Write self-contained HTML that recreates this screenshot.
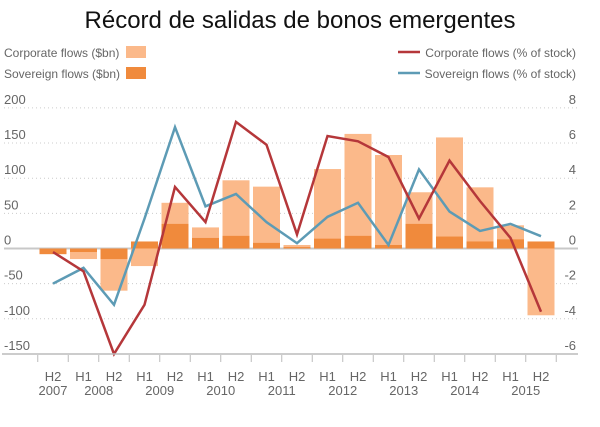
<!DOCTYPE html>
<html><head><meta charset="utf-8">
<style>
body{margin:0;background:#fff;font-family:"Liberation Sans",sans-serif;}
svg text{font-family:"Liberation Sans",sans-serif;fill:#666;}
</style></head>
<body>
<svg id="c" width="600" height="422">
<text x="300" y="28" text-anchor="middle" font-size="24" style="fill:#111">Récord de salidas de bonos emergentes</text>
<g>
<text x="4" y="57" font-size="12">Corporate flows ($bn)</text>
<rect x="126" y="46" width="20" height="12" fill="#fbb98a"/>
<text x="4" y="78" font-size="12">Sovereign flows ($bn)</text>
<rect x="126" y="67" width="20" height="12" fill="#f08a3c"/>
<line x1="398" y1="52" x2="420" y2="52" stroke="#b5373a" stroke-width="2.5"/>
<text x="576" y="57" font-size="12" text-anchor="end">Corporate flows (% of stock)</text>
<line x1="398" y1="73" x2="420" y2="73" stroke="#5d9bb5" stroke-width="2.5"/>
<text x="576" y="78" font-size="12" text-anchor="end">Sovereign flows (% of stock)</text>
</g>
<g id="plot"></g>
</svg>
<script>
const periods=["H2","H1","H2","H1","H2","H1","H2","H1","H2","H1","H2","H1","H2","H1","H2","H1","H2"];
const years=["2007","2008","2009","2010","2011","2012","2013","2014","2015"];
const corporateFlows=[-8,-15,-60,-25,65,30,97,88,5,113,163,133,80,158,87,33,-95];
const sovereignFlows=[-8,-5,-15,10,35,15,18,8,2,14,18,5,35,17,10,13,10];
const corporatePct=[-0.2,-1.3,-6.0,-3.2,3.5,1.5,7.2,5.9,0.8,6.4,6.1,5.2,1.7,5.0,2.7,0.6,-3.6];
const sovereignPct=[-2.0,-1.1,-3.2,1.7,6.9,2.4,3.1,1.5,0.3,1.8,2.6,0.2,4.5,2.1,1.0,1.4,0.7];
const leftTicks=[200,150,100,50,0,-50,-100,-150];
const rightTicks=[8,6,4,2,0,-2,-4,-6];

const NS="http://www.w3.org/2000/svg";
const g=document.getElementById('plot');
function el(t,a){const e=document.createElementNS(NS,t);for(const k in a)e.setAttribute(k,a[k]);g.appendChild(e);return e;}
const x=i=>53+i*30.5;
const yL=v=>248.5-v*0.703;
const yR=v=>248.5-v*17.58;

leftTicks.forEach(t=>{
  if(t!==-150){
  const l=el('line',{x1:4,x2:578,y1:yL(t),y2:yL(t),stroke:t===0?'#c8c8c8':'#ccc','stroke-width':t===0?2:1,'stroke-dasharray':t===0?'':'1,3'});
  
  
  }
  const tx=el('text',{x:4,y:yL(t)-4,'font-size':13});
  tx.textContent=t;
  
  
});
rightTicks.forEach(t=>{
  const tx=el('text',{x:576,y:yR(t)-4,'font-size':13,'text-anchor':'end'});
  tx.textContent=t;
  
  
});
const bw=27;
corporateFlows.forEach((v,i)=>{
  const r=el('rect',{x:x(i)-bw/2,y:Math.min(yL(v),yL(0)),width:bw,height:Math.abs(yL(v)-yL(0)),fill:'#fbb98a'});
  
  
});
sovereignFlows.forEach((v,i)=>{
  const r=el('rect',{x:x(i)-bw/2,y:Math.min(yL(v),yL(0)),width:bw,height:Math.abs(yL(v)-yL(0)),fill:'#f08a3c'});
  
  
});
function line(data,color,name){
  const p=el('polyline',{points:data.map((v,i)=>x(i)+','+yR(v)).join(' '),fill:'none',stroke:color,'stroke-width':2.5,'stroke-linejoin':'miter'});
  
  
}
line(sovereignPct,'#5d9bb5','sovereign-pct-line');
line(corporatePct,'#b5373a','corporate-pct-line');
const ax=el('line',{x1:2,x2:578,y1:354,y2:354,stroke:'#bbb','stroke-width':1.5});


for(let i=0;i<=17;i++){
  const tk=el('line',{x1:x(i)-15.25,x2:x(i)-15.25,y1:355,y2:362,stroke:'#bbb'});
  
  
}
periods.forEach((p,i)=>{
  const t=el('text',{x:x(i),y:381,'font-size':13,'text-anchor':'middle'});
  t.textContent=p;
  
  
});
years.forEach((yv,j)=>{
  const cx=j===0?x(0):(x(2*j-1)+x(2*j))/2;
  const t=el('text',{x:cx,y:395,'font-size':13,'text-anchor':'middle'});
  t.textContent=yv;
  
  
});
</script>
</body></html>
